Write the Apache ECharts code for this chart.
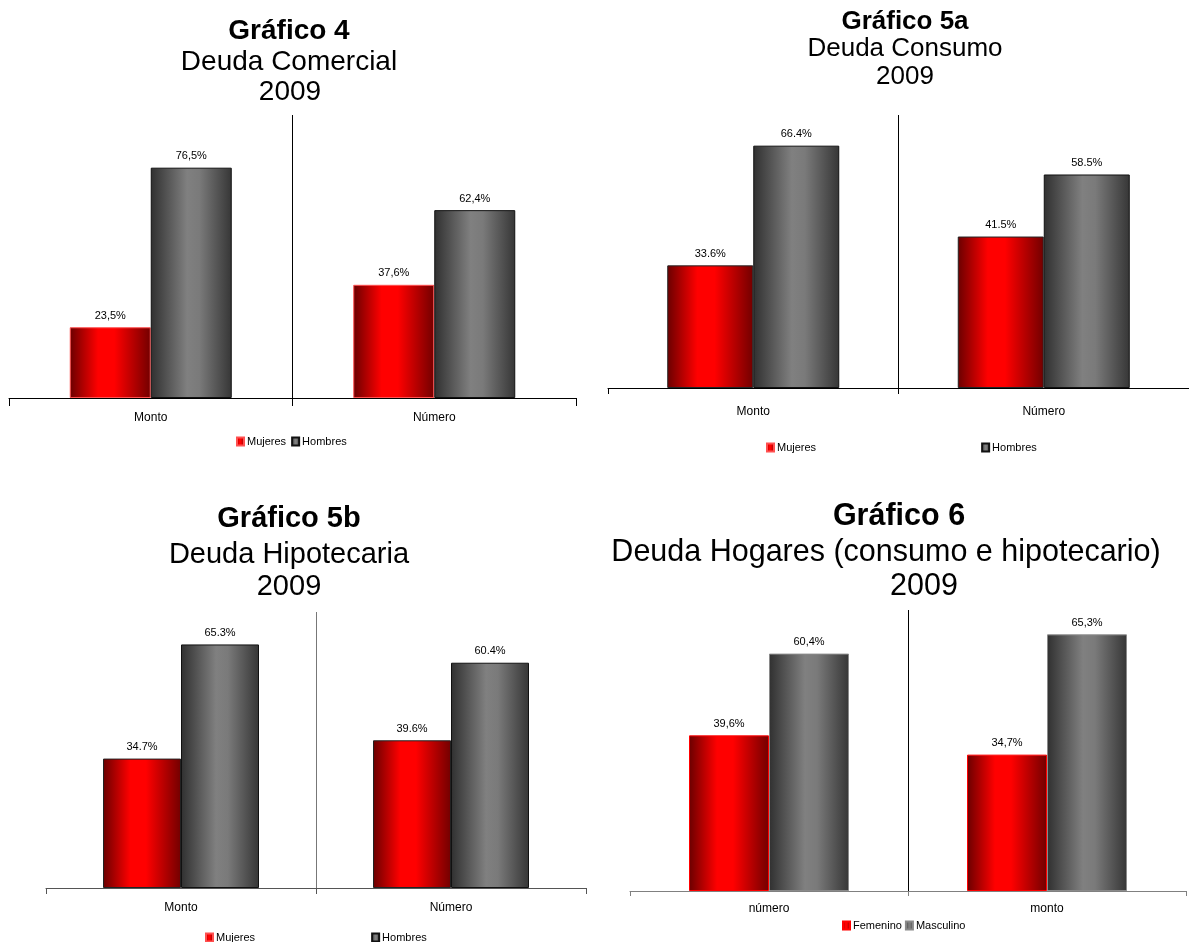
<!DOCTYPE html>
<html>
<head>
<meta charset="utf-8">
<script src="https://cdn.jsdelivr.net/npm/echarts@6/dist/echarts.min.js"></script>
<style>
  html, body { margin: 0; padding: 0; background: #ffffff; }
  #chart { width: 1189px; height: 942px; }
</style>
</head>
<body>
<div id="chart"></div>
<script>
// Deuda comercial 2009 (% por sexo)
const comercialCats = ['Monto', 'Número'];
const comercialMujeres = [23.5, 37.6];
const comercialHombres = [76.5, 62.4];

// Deuda consumo 2009
const consumoCats = ['Monto', 'Número'];
const consumoMujeres = [33.6, 41.5];
const consumoHombres = [66.4, 58.5];

// Deuda hipotecaria 2009
const hipotecariaCats = ['Monto', 'Número'];
const hipotecariaMujeres = [34.7, 39.6];
const hipotecariaHombres = [65.3, 60.4];

// Deuda hogares (consumo e hipotecario) 2009
const hogaresCats = ['número', 'monto'];
const hogaresFemenino = [39.6, 34.7];
const hogaresMasculino = [60.4, 65.3];

const FONT = "'Liberation Sans', Arial, Helvetica, sans-serif";
const H = 942, W = 1189;

// Horizontal shading that gives the bars a cylindrical look
function redFill() {
  return new echarts.graphic.LinearGradient(0, 0, 1, 0, [
    { offset: 0, color: '#6a0000' },
    { offset: 0.35, color: '#ff0000' },
    { offset: 0.55, color: '#ff0000' },
    { offset: 1, color: '#720000' }
  ]);
}
function grayFill() {
  return new echarts.graphic.LinearGradient(0, 0, 1, 0, [
    { offset: 0, color: '#303030' },
    { offset: 0.45, color: '#808080' },
    { offset: 0.6, color: '#7a7a7a' },
    { offset: 1, color: '#363636' }
  ]);
}

// Heading lines: [text, centre x, centre y, bold]
const panels = [
  {
    cats: comercialCats, first: comercialMujeres, second: comercialHombres,
    names: ['Mujeres', 'Hombres'],
    heading: [['Gráfico 4', 289, 31, true], ['Deuda Comercial', 289, 62, false], ['2009', 290, 92, false]],
    titleSize: 28,
    left: 9, right: W - 576, top: 115, axisY: 398, yMax: 94,
    barWidth: 81, sep: ',', axisColor: '#000', divColor: '#000',
    redBorder: '#ff5050', grayBorder: '#111', labelMargin: 14, tickLen: 8,
    legendLeft: 236, legendTop: 436, legendGap: 5
  },
  {
    cats: consumoCats, first: consumoMujeres, second: consumoHombres,
    names: ['Mujeres', 'Hombres'],
    heading: [['Gráfico 5a', 905, 22, true], ['Deuda Consumo', 905, 49, false], ['2009', 905, 77, false]],
    titleSize: 26,
    left: 608, right: W - 1208, top: 115, axisY: 388, yMax: 74.8,
    barWidth: 86, sep: '.', axisColor: '#000', divColor: '#000',
    redBorder: '#222', grayBorder: '#111', labelMargin: 18, tickLen: 6,
    legendLeft: 766, legendTop: 442, legendGap: 165
  },
  {
    cats: hipotecariaCats, first: hipotecariaMujeres, second: hipotecariaHombres,
    names: ['Mujeres', 'Hombres'],
    heading: [['Gráfico 5b', 289, 519, true], ['Deuda Hipotecaria', 289, 555, false], ['2009', 289, 587, false]],
    titleSize: 29,
    left: 46, right: W - 586, top: 612, axisY: 888, yMax: 74.0,
    barWidth: 78, sep: '.', axisColor: '#555', divColor: '#777',
    redBorder: '#222', grayBorder: '#111', labelMargin: 14, tickLen: 6,
    legendLeft: 205, legendTop: 932, legendGap: 116
  },
  {
    cats: hogaresCats, first: hogaresFemenino, second: hogaresMasculino,
    names: ['Femenino', 'Masculino'],
    heading: [['Gráfico 6', 899, 517, true], ['Deuda Hogares (consumo e hipotecario)', 886, 553, false], ['2009', 924, 587, false]],
    titleSize: 30.5,
    left: 630, right: W - 1186, top: 610, axisY: 891, yMax: 71.5,
    barWidth: 80, sep: ',', axisColor: '#808080', divColor: '#000',
    redBorder: '#ff0000', grayBorder: '#8a8a8a', labelMargin: 12, tickLen: 5,
    legendLeft: 842, legendTop: 920, legendGap: 3
  }
];

const option = {
  backgroundColor: '#ffffff',
  animation: false,
  textStyle: { fontFamily: FONT },
  title: [], legend: [], grid: [], xAxis: [], yAxis: [], series: []
};

panels.forEach((p, i) => {
  const lh = Math.round(p.titleSize + 4);
  p.heading.forEach(([text, cx, cy, bold]) => {
    option.title.push({
      text: text,
      left: cx,
      top: cy - lh / 2,
      textAlign: 'center',
      padding: 0,
      textStyle: {
        fontFamily: FONT, fontSize: p.titleSize, lineHeight: lh,
        fontWeight: bold ? 'bold' : 'normal', color: '#000'
      }
    });
  });

  option.grid.push({ left: p.left, right: p.right, top: p.top, bottom: H - p.axisY, containLabel: false });

  option.xAxis.push({
    type: 'category',
    gridIndex: i,
    data: p.cats,
    boundaryGap: true,
    axisLine: { show: true, lineStyle: { color: p.axisColor, width: 1 } },
    axisTick: { show: true, length: p.tickLen, lineStyle: { color: p.axisColor, width: 1 } },
    axisLabel: { fontFamily: FONT, fontSize: 12, color: '#000', margin: p.labelMargin },
    splitLine: {
      show: true, showMinLine: false, showMaxLine: false,
      lineStyle: { color: p.divColor, width: 1, type: 'solid' }
    }
  });

  option.yAxis.push({ type: 'value', gridIndex: i, min: 0, max: p.yMax, show: false });

  const fmt = (v) => v.toFixed(1).replace('.', p.sep) + '%';
  const label = {
    show: true, position: 'top', distance: 6,
    fontFamily: FONT, fontSize: 11, color: '#000',
    formatter: (d) => fmt(d.value)
  };

  option.series.push({
    type: 'bar', name: p.names[0], xAxisIndex: i, yAxisIndex: i,
    data: p.first, barWidth: p.barWidth, barGap: '0%',
    itemStyle: { color: redFill(), borderColor: p.redBorder, borderWidth: 1 },
    label: label
  });
  option.series.push({
    type: 'bar', name: p.names[1], xAxisIndex: i, yAxisIndex: i,
    data: p.second, barWidth: p.barWidth, barGap: '0%',
    itemStyle: { color: grayFill(), borderColor: p.grayBorder, borderWidth: 1 },
    label: label
  });

  option.legend.push({
    data: p.names,
    left: p.legendLeft,
    top: p.legendTop,
    orient: 'horizontal',
    icon: 'rect',
    itemWidth: 7,
    itemHeight: 8,
    itemGap: p.legendGap,
    padding: 0,
    selectedMode: false,
    textStyle: { fontFamily: FONT, fontSize: 11, color: '#000', padding: [0, 0, 0, -2] }
  });
});

const chart = echarts.init(document.getElementById('chart'), null, { renderer: 'canvas' });
chart.setOption(option);
</script>
</body>
</html>
